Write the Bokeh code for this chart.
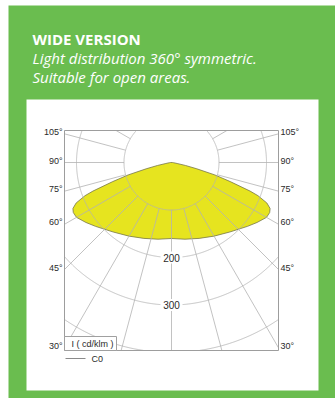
import numpy as np
from bokeh.plotting import figure
from bokeh.models import Range1d
from bokeh.core.properties import value
from bokeh.embed import file_html
from bokeh.resources import INLINE

# ---------------- data ----------------
gamma_deg = [0, 10, 20, 30, 40, 50, 55, 60, 63, 65, 67, 69, 70, 72, 74, 76, 78, 80, 85, 90]
intensity_c0 = [160, 164, 170, 179, 191, 209, 220, 231, 232, 229, 218, 195, 176, 130, 95, 55, 30, 12, 4, 2]
ring_values = [100, 200, 300, 400]
ring_label_values = [200, 300]
spoke_angles = [-120, -105, -90, -75, -60, -45, -30, -15, 0, 15, 30, 45, 60, 75, 90, 105, 120]
side_label_angles = [105, 90, 75, 60, 45, 30]
side_labels = ["105°", "90°", "75°", "60°", "45°", "30°"]
title = "WIDE VERSION"
subtitle_lines = ["Light distribution 360° symmetric.", "Suitable for open areas."]
unit_label = "I ( cd/klm )"
legend_label = "C0"

# ---------------- layout (canvas pixels) ----------------
W, H = 335, 398
PX = 0.475                  # pixels per cd/klm
POLE_X, POLE_Y = 171, 162   # canvas position of the pole

def dx(X):
    return (X - POLE_X) / PX

def dy(Y):
    return (POLE_Y - Y) / PX

GREEN = "#6abd4f"
YELLOW = "#e6e41f"
GRID = "#b3b3b3"
TXT = "#2a2a2a"
SANS = value("Liberation Sans")

p = figure(width=W, height=H, output_backend="svg", toolbar_location=None,
           x_range=Range1d(dx(0), dx(W)), y_range=Range1d(dy(H), dy(0)),
           x_axis_location=None, y_axis_location=None, min_border=0,
           outline_line_color=None, background_fill_color="white",
           border_fill_color="white")
p.grid.grid_line_color = None

# green card and white panel
p.quad(left=[dx(8)], right=[dx(W)], top=[dy(5)], bottom=[dy(H)],
       fill_color=GREEN, line_color=None)
p.quad(left=[dx(26)], right=[dx(318)], top=[dy(99)], bottom=[dy(390)],
       fill_color="white", line_color=None)

# plot frame limits
L, R, T, B = dx(64), dx(278), dy(130), dy(350)

# intensity curve (mirrored, C0 plane)
g = np.radians(np.array(gamma_deg, dtype=float))
I = np.array(intensity_c0, dtype=float)
xr = I * np.sin(g)
yr = -I * np.cos(g)
px_ = np.concatenate([-xr[::-1], xr[1:]])
py_ = np.concatenate([yr[::-1], yr[1:]])
p.patch(px_, py_, fill_color=YELLOW, line_color="#76764a", line_width=0.8)

# rings, clipped to the frame
t = np.linspace(0, 2 * np.pi, 1441)
for r in ring_values:
    cx = r * np.cos(t)
    cy = r * np.sin(t)
    outside = (cx < L) | (cx > R) | (cy > T) | (cy < B)
    cx = np.where(outside, np.nan, cx)
    cy = np.where(outside, np.nan, cy)
    p.line(cx, cy, line_color=GRID, line_width=0.8)

# spokes from the first ring to the frame
x0s, y0s, x1s, y1s = [], [], [], []
for a in spoke_angles:
    ar = np.radians(a)
    ux, uy = np.sin(ar), -np.cos(ar)
    cands = []
    if ux > 1e-9:
        cands.append(R / ux)
    elif ux < -1e-9:
        cands.append(L / ux)
    if uy > 1e-9:
        cands.append(T / uy)
    elif uy < -1e-9:
        cands.append(B / uy)
    tmax = min(cands)
    r0 = ring_values[0]
    if tmax <= r0:
        continue
    x0s.append(r0 * ux); y0s.append(r0 * uy)
    x1s.append(tmax * ux); y1s.append(tmax * uy)
p.segment(x0s, y0s, x1s, y1s, line_color=GRID, line_width=0.8)

# frame
p.quad(left=[L], right=[R], top=[T], bottom=[B], fill_color=None,
       line_color="#9d9d9d", line_width=1)

# ring labels with white backing
ry = [-v for v in ring_label_values]
p.rect(x=[0] * len(ry), y=ry, width=22 / PX, height=12 / PX,
       fill_color="white", line_color=None)
p.text(x=[0] * len(ry), y=ry, text=[str(v) for v in ring_label_values],
       text_font=SANS, text_font_size="10px", text_color=TXT,
       text_align="center", text_baseline="middle")

# side angle labels
ys = [-R * np.cos(np.radians(a)) / np.sin(np.radians(a)) + 2 / PX for a in side_label_angles]
p.text(x=[dx(62)] * len(ys), y=ys, text=side_labels, text_font=SANS,
       text_font_size="9px", text_color=TXT, text_align="right", text_baseline="middle")
p.text(x=[dx(280)] * len(ys), y=ys, text=side_labels, text_font=SANS,
       text_font_size="9px", text_color=TXT, text_align="left", text_baseline="middle")

# unit box
p.quad(left=[dx(64)], right=[dx(116)], top=[dy(336)], bottom=[dy(350)],
       fill_color="white", line_color="#a0a0a0", line_width=1)
p.text(x=[dx(71)], y=[dy(343.5)], text=[unit_label], text_font=SANS,
       text_font_size="9px", text_color=TXT, text_align="left", text_baseline="middle")

# legend
p.segment([dx(65)], [dy(358)], [dx(85)], [dy(358)], line_color="#8a8a8a", line_width=1)
p.text(x=[dx(91)], y=[dy(358.5)], text=[legend_label], text_font=SANS,
       text_font_size="9px", text_color=TXT, text_align="left", text_baseline="middle")

# titles
p.text(x=[dx(32)], y=[dy(38.5)], text=[title], text_font=value("Open Sans"),
       text_font_size="15px", text_font_style="bold", text_color="white",
       text_align="left", text_baseline="alphabetic")
p.text(x=[dx(32)] * 2, y=[dy(57), dy(76)], text=subtitle_lines,
       text_font=value("Open Sans"), text_font_size="15px", text_font_style="italic",
       text_color="white", text_align="left", text_baseline="alphabetic")

open("out.html", "w").write(file_html(p, INLINE))
